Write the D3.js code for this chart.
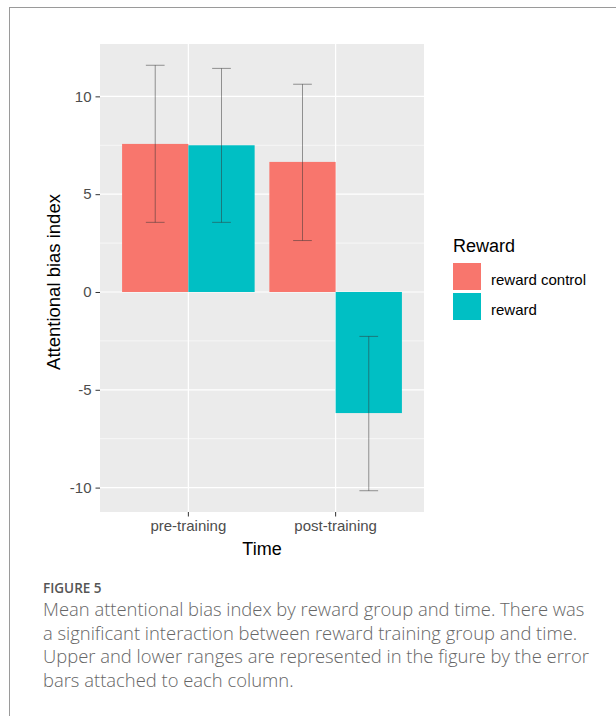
<!DOCTYPE html>
<html>
<head>
<meta charset="utf-8">
<script src="https://cdn.jsdelivr.net/npm/d3@7"></script>
<style>
  html, body { margin: 0; padding: 0; background: #fff; }
  svg { display: block; }
</style>
</head>
<body>
<script>
const width = 616;
const height = 716;

// data
const times = ["pre-training", "post-training"];
const groups = ["reward control", "reward"];
const colors = ["#F8766D", "#00BFC4"];
const meanControl = [7.57, 6.65];
const meanReward = [7.50, -6.19];
const upperControl = [11.59, 10.62];
const upperReward = [11.43, -2.27];
const lowerControl = [3.56, 2.63];
const lowerReward = [3.56, -10.16];
const yTicks = [-10, -5, 0, 5, 10];
const yMinor = [-7.5, -2.5, 2.5, 7.5];

const captionHead = "FIGURE 5";
const captionLines = [
  "Mean attentional bias index by reward group and time. There was",
  "a significant interaction between reward training group and time.",
  "Upper and lower ranges are represented in the figure by the error",
  "bars attached to each column."
];

const rows = [];
times.forEach((t, i) => {
  rows.push({time: t, group: groups[0], mean: meanControl[i], hi: upperControl[i], lo: lowerControl[i]});
  rows.push({time: t, group: groups[1], mean: meanReward[i], hi: upperReward[i], lo: lowerReward[i]});
});

const panel = {left: 100, right: 424, top: 44, bottom: 512};

const svg = d3.select("body").append("svg")
  .attr("width", width).attr("height", height);

// frame lines of the page
svg.append("line").attr("x1", 9).attr("x2", width).attr("y1", 7.5).attr("y2", 7.5)
  .attr("stroke", "#9a9a9a").attr("stroke-width", 1);
svg.append("line").attr("x1", 9.5).attr("x2", 9.5).attr("y1", 7).attr("y2", height)
  .attr("stroke", "#9a9a9a").attr("stroke-width", 1);

// scales
const lo = d3.min(rows, d => Math.min(d.lo, 0));
const hi = d3.max(rows, d => Math.max(d.hi, 0));
const pad = (hi - lo) * 0.05;
const y = d3.scaleLinear().domain([lo - pad, hi + pad]).range([panel.bottom, panel.top]);

const x = d3.scaleBand().domain(times).range([panel.left, panel.right])
  .paddingInner(0.1).paddingOuter(0.15);
const xSub = d3.scaleBand().domain(groups).range([0, x.bandwidth()]);
const color = d3.scaleOrdinal().domain(groups).range(colors);

// panel background + grid
svg.append("rect").attr("x", panel.left).attr("y", panel.top)
  .attr("width", panel.right - panel.left).attr("height", panel.bottom - panel.top)
  .attr("fill", "#EBEBEB");

svg.append("g").selectAll("line").data(yMinor).join("line")
  .attr("x1", panel.left).attr("x2", panel.right)
  .attr("y1", d => y(d)).attr("y2", d => y(d))
  .attr("stroke", "#fff").attr("stroke-width", 0.6);

svg.append("g").selectAll("line").data(yTicks).join("line")
  .attr("x1", panel.left).attr("x2", panel.right)
  .attr("y1", d => y(d)).attr("y2", d => y(d))
  .attr("stroke", "#fff").attr("stroke-width", 1.2);

svg.append("g").selectAll("line").data(times).join("line")
  .attr("x1", d => x(d) + x.bandwidth() / 2).attr("x2", d => x(d) + x.bandwidth() / 2)
  .attr("y1", panel.top).attr("y2", panel.bottom)
  .attr("stroke", "#fff").attr("stroke-width", 1.2);

// bars
svg.append("g").selectAll("rect").data(rows).join("rect")
  .attr("x", d => x(d.time) + xSub(d.group))
  .attr("width", xSub.bandwidth())
  .attr("y", d => y(Math.max(d.mean, 0)))
  .attr("height", d => Math.abs(y(d.mean) - y(0)))
  .attr("fill", d => color(d.group));

// error bars
const capHalf = x.step() * 0.0635;
const eb = svg.append("g").attr("stroke", "#333").attr("stroke-opacity", 0.5).attr("stroke-width", 1);
rows.forEach(d => {
  const cx = x(d.time) + xSub(d.group) + xSub.bandwidth() / 2;
  eb.append("line").attr("x1", cx).attr("x2", cx).attr("y1", y(d.hi)).attr("y2", y(d.lo));
  eb.append("line").attr("x1", cx - capHalf).attr("x2", cx + capHalf).attr("y1", y(d.hi)).attr("y2", y(d.hi));
  eb.append("line").attr("x1", cx - capHalf).attr("x2", cx + capHalf).attr("y1", y(d.lo)).attr("y2", y(d.lo));
});

// axes
const font = "'Liberation Sans', Arial, sans-serif";

const yAxis = svg.append("g").attr("transform", `translate(${panel.left},0)`)
  .call(d3.axisLeft(y).tickValues(yTicks).tickSize(4.5).tickPadding(4).tickFormat(d => String(d)));
yAxis.select(".domain").remove();
yAxis.selectAll(".tick line").attr("stroke", "#333").attr("stroke-width", 1);
yAxis.selectAll(".tick text").attr("fill", "#4D4D4D").style("font-family", font).style("font-size", "15px");

const xAxis = svg.append("g").attr("transform", `translate(0,${panel.bottom})`)
  .call(d3.axisBottom(x).tickSize(4.5).tickPadding(4));
xAxis.select(".domain").remove();
xAxis.selectAll(".tick line").attr("stroke", "#333").attr("stroke-width", 1);
xAxis.selectAll(".tick text").attr("fill", "#4D4D4D").style("font-family", font).style("font-size", "15px");

svg.append("text").attr("x", (panel.left + panel.right) / 2).attr("y", 555)
  .attr("text-anchor", "middle").style("font-family", font).style("font-size", "18px")
  .attr("fill", "#000").text("Time");

svg.append("text").attr("transform", `translate(60,${(panel.top + panel.bottom) / 2 + 4}) rotate(-90)`)
  .attr("text-anchor", "middle").style("font-family", font).style("font-size", "18.5px")
  .attr("fill", "#000").text("Attentional bias index");

// legend
const legend = svg.append("g").attr("transform", "translate(453,0)");
legend.append("text").attr("x", 0).attr("y", 252)
  .style("font-family", font).style("font-size", "18px").attr("fill", "#000").text("Reward");
groups.forEach((g, i) => {
  legend.append("rect").attr("x", 0).attr("y", 263 + i * 30)
    .attr("width", 28).attr("height", 27).attr("fill", color(g));
  legend.append("text").attr("x", 38).attr("y", 284.5 + i * 30)
    .style("font-family", font).style("font-size", "15px").attr("fill", "#000").text(g);
});

// caption
const capFont = "'Open Sans', 'Noto Sans', sans-serif";
svg.append("text").attr("x", 43).attr("y", 593)
  .style("font-family", capFont).style("font-size", "13.5px").style("font-weight", 600)
  .attr("fill", "#555").text(captionHead);

const capLines = svg.append("g").selectAll("text").data(captionLines).join("text")
  .attr("x", 43).attr("y", (d, i) => 616 + i * 23.5)
  .style("font-family", capFont).style("font-weight", 300)
  .style("font-size", "16.5px").attr("fill", "#666")
  .text(d => d);

// fit font size so the first line spans the width seen in the figure
const firstW = capLines.node().getComputedTextLength();
const fitted = 16.5 * 542 / firstW;
capLines.style("font-size", fitted + "px");
</script>
</body>
</html>
